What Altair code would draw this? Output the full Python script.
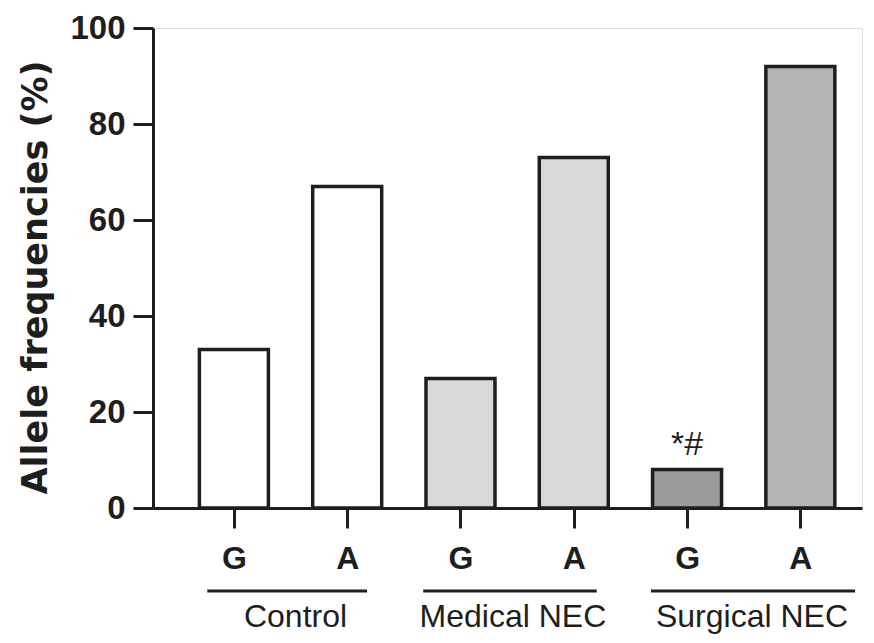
import altair as alt
import pandas as pd

# ---- data ----
groups = ["Control", "Control", "Medical NEC", "Medical NEC", "Surgical NEC", "Surgical NEC"]
alleles = ["G", "A", "G", "A", "G", "A"]
values = [33, 67, 27, 73, 8, 92]
fills = ["#ffffff", "#ffffff", "#d9d9d9", "#d9d9d9", "#9a9a9a", "#b3b3b3"]
positions = [0, 1, 2, 3, 4, 5]

group_names = ["Control", "Medical NEC", "Surgical NEC"]
group_line_start = [-0.235, 1.671, 3.681]
group_line_end = [1.175, 3.203, 5.483]
group_label_pos = [0.544, 2.463, 4.573]

annot_pos = [4]
annot_val = [8]
annot_text = ["*#"]

FONT = "Liberation Sans"
INK = "#1e1e1e"

bars_df = pd.DataFrame({"pos": positions, "allele": alleles, "group": groups,
                        "value": values, "fill": fills})
lines_df = pd.DataFrame({"group": group_names, "x0": group_line_start, "x1": group_line_end,
                         "xc": group_label_pos})
annot_df = pd.DataFrame({"pos": annot_pos, "value": annot_val, "text": annot_text})

xscale = alt.Scale(domain=[-0.67, 5.5], nice=False, zero=False)
yscale = alt.Scale(domain=[0, 100], nice=False)

label_expr = "datum.value % 2 == 0 ? 'G' : 'A'"

bars = alt.Chart(bars_df).mark_bar(stroke=INK, strokeWidth=3.5, size=69).encode(
    x=alt.X("pos:Q", scale=xscale,
            axis=alt.Axis(values=positions, labelExpr=label_expr, title=None,
                          tickSize=20, tickWidth=3, tickColor=INK,
                          domainWidth=3, domainColor=INK,
                          labelFont=FONT, labelFontSize=32, labelFontWeight="bold",
                          labelColor=INK, labelBaseline="alphabetic", labelPadding=40,
                          grid=False)),
    y=alt.Y("value:Q", scale=yscale,
            axis=alt.Axis(values=[0, 20, 40, 60, 80, 100], title="Allele frequencies (%)",
                          tickSize=20, tickWidth=3, tickColor=INK,
                          domainWidth=3, domainColor=INK,
                          labelFont=FONT, labelFontSize=33, labelFontWeight="bold",
                          labelColor=INK, labelPadding=8,
                          titleFont="DejaVu Sans", titleFontSize=35, titleFontWeight="bold",
                          titleColor=INK, titleX=-118, titleY=249, titleAngle=-90,
                          titleAlign="center", titleBaseline="middle",
                          grid=False)),
    fill=alt.Fill("fill:N", scale=None),
)

annot = alt.Chart(annot_df).mark_text(font=FONT, fontSize=34, color=INK, dy=-25,
                                      baseline="middle").encode(
    x=alt.X("pos:Q", scale=xscale),
    y=alt.Y("value:Q", scale=yscale),
    text="text:N",
)

underlines = alt.Chart(lines_df).mark_rule(color=INK, strokeWidth=3).encode(
    x=alt.X("x0:Q", scale=xscale),
    x2="x1:Q",
    y=alt.value(563),
)

group_labels = alt.Chart(lines_df).mark_text(font=FONT, fontSize=32, color=INK,
                                             baseline="alphabetic").encode(
    x=alt.X("xc:Q", scale=xscale),
    y=alt.value(599),
    text="group:N",
)

chart = alt.layer(bars, annot, underlines, group_labels).properties(
    width=709, height=480,
    padding={"left": 145, "top": 20, "right": 4, "bottom": 127},
    autosize=alt.AutoSizeParams(type="none"),
).configure_view(stroke=None).configure(background="white")

chart.save("out.html", embed_options={"renderer": "svg", "actions": False})
